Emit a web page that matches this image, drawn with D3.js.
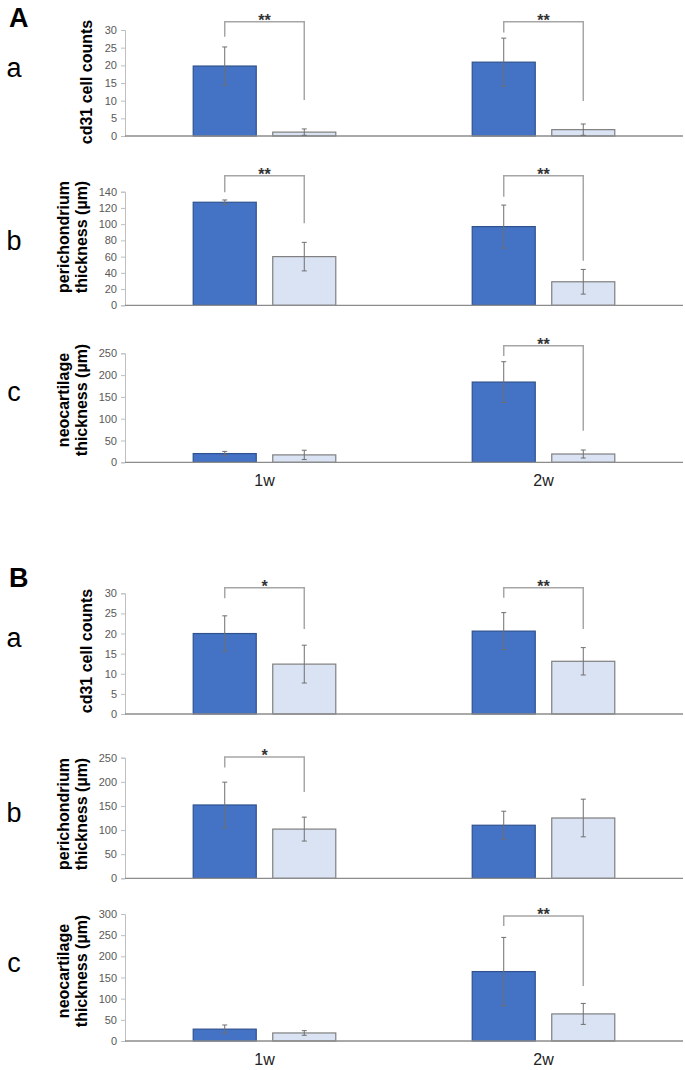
<!DOCTYPE html>
<html>
<head>
<meta charset="utf-8">
<script src="https://cdn.jsdelivr.net/npm/d3@7"></script>
<style>
  body { margin: 0; background: #fff; }
  svg { display: block; font-family: "Liberation Sans", Arial, sans-serif; }
</style>
</head>
<body>
<svg id="chart" width="685" height="1070"></svg>
<script>
// categories and series
const weeks = ["1w", "2w"];
const series = ["dark", "light"];
const panelKeys = ["a", "b", "c"];
const yLabels = [["cd31 cell counts"], ["perichondrium", "thickness (µm)"], ["neocartilage", "thickness (µm)"]];

// block A
const aYMax = [30, 140, 250];
const aYStep = [5, 20, 50];
const aDarkMean = [[19.8, 20.9], [127, 97], [20, 184]];
const aDarkSd = [[5.4, 6.8], [2.8, 26.5], [5, 46.7]];
const aLightMean = [[1.1, 1.8], [60, 29], [17, 19]];
const aLightSd = [[0.9, 1.6], [17.6, 15.2], [10.7, 9.2]];
// significance brackets: panel index, week, stars, top, left leg end, right leg end (data units)
const aSig = [
  [0, "1w", "**", 32.3, 28.1, 10.2],
  [0, "2w", "**", 32.3, 29.3, 9.9],
  [1, "1w", "**", 159.7, 139.3, 101],
  [1, "2w", "**", 159.7, 133.8, 55],
  [2, "2w", "**", 267.4, 243.8, 72.5]
];

// block B
const bYMax = [30, 250, 300];
const bYStep = [5, 50, 50];
const bDarkMean = [[20, 20.6], [152, 110], [28, 164]];
const bDarkSd = [[4.4, 4.6], [47.3, 29], [9.8, 80.7]];
const bLightMean = [[12.4, 13.1], [102, 125], [19, 64]];
const bLightSd = [[4.7, 3.4], [24.8, 39], [5.5, 24.8]];
const bSig = [
  [0, "1w", "*", 31.4, 28.8, 21.1],
  [0, "2w", "**", 31.4, 28.9, 21.1],
  [1, "1w", "*", 251.2, 229.9, 178.7],
  [2, "2w", "**", 295.3, 271.7, 129.9]
];

// layout
const svg = d3.select("#chart");
const xLeft = 125, xRight = 683;
const fills = { dark: "#4472c4", light: "#dae3f3" };
const strokes = { dark: "#2f528f", light: "#7f7f7f" };

const x0 = d3.scaleBand().domain(weeks).range([xLeft, xRight])
  .paddingInner(0.489).paddingOuter(0.2445);
const x1 = d3.scaleBand().domain(series).range([0, x0.bandwidth()]).paddingInner(0.2075);

const blocks = [
  {
    letter: "A", letterY: 27, xLabelY: 486,
    yMax: aYMax, yStep: aYStep, dark: aDarkMean, darkSd: aDarkSd, light: aLightMean, lightSd: aLightSd, sig: aSig,
    panels: [
      { top: 30, bottom: 136, letterY: 77, labelY: 82 },
      { top: 191.7, bottom: 305.3, letterY: 250, labelY: 237 },
      { top: 353.3, bottom: 462.3, letterY: 401, labelY: 400 }
    ]
  },
  {
    letter: "B", letterY: 587, xLabelY: 1065,
    yMax: bYMax, yStep: bYStep, dark: bDarkMean, darkSd: bDarkSd, light: bLightMean, lightSd: bLightSd, sig: bSig,
    panels: [
      { top: 593.3, bottom: 714, letterY: 647, labelY: 651 },
      { top: 757.7, bottom: 878.3, letterY: 822, labelY: 814 },
      { top: 914, bottom: 1041, letterY: 972, labelY: 971 }
    ]
  }
];

blocks.forEach(block => {
  svg.append("text")
    .attr("x", 9).attr("y", block.letterY)
    .attr("font-size", 27).attr("font-weight", "bold")
    .attr("fill", "#000")
    .text(block.letter);

  block.panels.forEach((p, i) => {
    const y = d3.scaleLinear().domain([0, block.yMax[i]]).range([p.bottom, p.top]);
    const g = svg.append("g");

    // panel letter
    g.append("text")
      .attr("x", 14).attr("y", p.letterY)
      .attr("text-anchor", "middle")
      .attr("font-size", 27).attr("fill", "#000")
      .text(panelKeys[i]);

    // y axis
    const ticks = d3.range(0, block.yMax[i] + 0.001, block.yStep[i]);
    const yAxis = g.append("g")
      .attr("transform", `translate(${xLeft},0)`)
      .call(d3.axisLeft(y).tickValues(ticks).tickSize(4).tickPadding(4).tickFormat(d3.format("d")));
    yAxis.select(".domain").attr("stroke", "#bfbfbf");
    yAxis.selectAll(".tick line").attr("stroke", "#bfbfbf");
    yAxis.selectAll(".tick text")
      .attr("font-size", 11).attr("fill", "#595959")
      .attr("font-family", "Liberation Sans, Arial, sans-serif");

    // y label
    const lines = yLabels[i];
    const lab = g.append("text")
      .attr("transform", `translate(0,${p.labelY}) rotate(-90)`)
      .attr("text-anchor", "middle")
      .attr("font-size", 16).attr("font-weight", "bold").attr("fill", "#000");
    lines.forEach((t, k) => {
      const cx = lines.length === 1 ? 92 : (k === 0 ? 69 : 86.5);
      lab.append("tspan").attr("x", 0).attr("y", cx).text(t);
    });

    // bars
    const rows = [];
    weeks.forEach((w, j) => {
      rows.push({ week: w, s: "dark", v: block.dark[i][j], sd: block.darkSd[i][j] });
      rows.push({ week: w, s: "light", v: block.light[i][j], sd: block.lightSd[i][j] });
    });

    g.selectAll("rect.bar").data(rows).enter().append("rect")
      .attr("class", "bar")
      .attr("x", d => x0(d.week) + x1(d.s))
      .attr("width", x1.bandwidth())
      .attr("y", d => y(d.v))
      .attr("height", d => y(0) - y(d.v))
      .attr("fill", d => fills[d.s])
      .attr("stroke", d => strokes[d.s])
      .attr("stroke-width", 1.2);

    // baseline
    g.append("line")
      .attr("x1", xLeft).attr("x2", xRight)
      .attr("y1", y(0)).attr("y2", y(0))
      .attr("stroke", "#8c8c8c").attr("stroke-width", 1.3);

    // error bars
    const eb = g.selectAll("g.err").data(rows).enter().append("g")
      .attr("stroke", "#6f6f6f").attr("stroke-width", 1);
    const cxOf = d => x0(d.week) + x1(d.s) + x1.bandwidth() / 2;
    eb.append("line")
      .attr("x1", cxOf).attr("x2", cxOf)
      .attr("y1", d => y(d.v + d.sd)).attr("y2", d => y(Math.max(0, d.v - d.sd)));
    eb.append("line")
      .attr("x1", d => cxOf(d) - 2.5).attr("x2", d => cxOf(d) + 2.5)
      .attr("y1", d => y(d.v + d.sd)).attr("y2", d => y(d.v + d.sd));
    eb.append("line")
      .attr("x1", d => cxOf(d) - 2.5).attr("x2", d => cxOf(d) + 2.5)
      .attr("y1", d => y(Math.max(0, d.v - d.sd))).attr("y2", d => y(Math.max(0, d.v - d.sd)));

    // significance brackets
    block.sig.filter(s => s[0] === i).forEach(s => {
      const xl = x0(s[1]) + x1("dark") + x1.bandwidth() / 2;
      const xr = x0(s[1]) + x1("light") + x1.bandwidth() / 2;
      g.append("path")
        .attr("d", `M${xl},${y(s[4])}V${y(s[3])}H${xr}V${y(s[5])}`)
        .attr("fill", "none").attr("stroke", "#a6a6a6").attr("stroke-width", 1.5);
      g.append("text")
        .attr("x", (xl + xr) / 2).attr("y", y(s[3]) + 4)
        .attr("text-anchor", "middle")
        .attr("font-size", 16).attr("font-weight", "bold").attr("fill", "#333")
        .text(s[2]);
    });
  });

  // category labels
  svg.selectAll(null).data(weeks).enter().append("text")
    .attr("x", d => x0(d) + x0.bandwidth() / 2)
    .attr("y", block.xLabelY)
    .attr("text-anchor", "middle")
    .attr("font-size", 16).attr("fill", "#222")
    .text(d => d);
});
</script>
</body>
</html>
